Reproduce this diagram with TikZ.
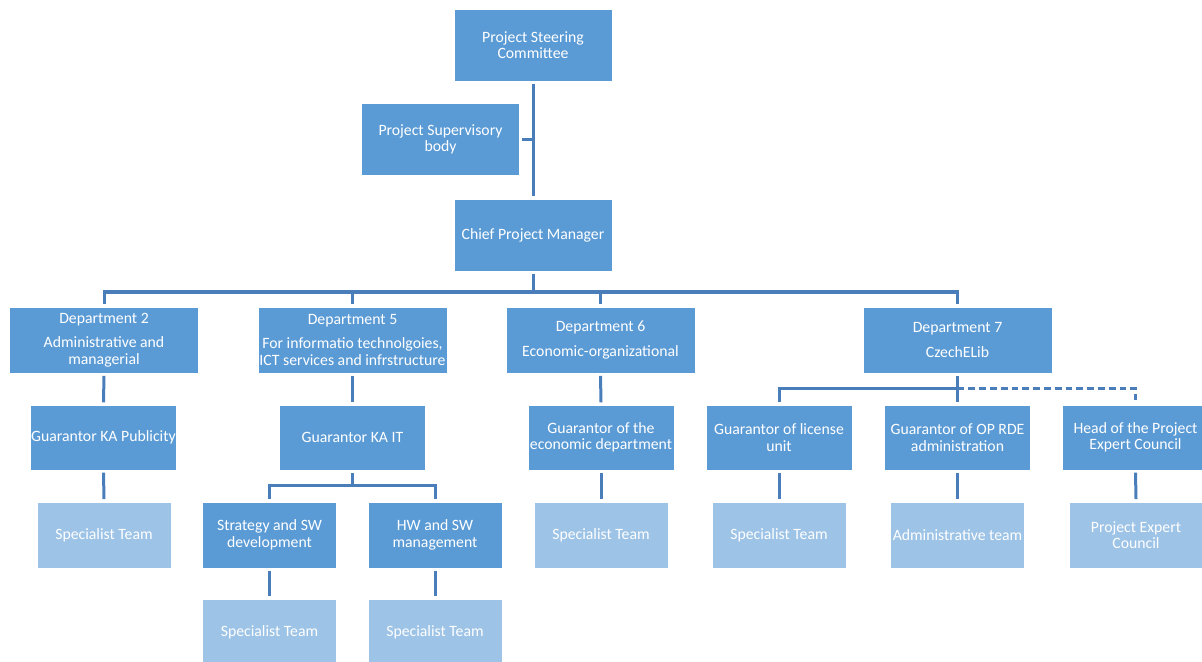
\documentclass[tikz,border=0pt]{standalone}
\usepackage{fontspec}
\setmainfont{Carlito}
\usetikzlibrary{calc}
\definecolor{boxblue}{HTML}{5B9BD5}
\definecolor{teamblue}{HTML}{9DC3E6}
\definecolor{linkblue}{HTML}{4A7EBB}
\tikzset{
	unit/.style={draw=white, line width=0.4pt, text=white, align=center, inner sep=0pt, outer sep=0.07cm, font=\fontsize{11.2}{11.8}\selectfont},
	mainbox/.style={unit, fill=boxblue, minimum width=3.95cm, minimum height=1.8cm},
	deptbox/.style={unit, fill=boxblue, minimum width=4.72cm, minimum height=1.65cm},
	guarbox/.style={unit, fill=boxblue, minimum width=3.65cm, minimum height=1.62cm},
	teambox/.style={unit, fill=teamblue, minimum width=3.35cm, minimum height=1.65cm},
	link/.style={draw=linkblue, line width=0.075cm},
	dashlink/.style={link, dash pattern=on 0.17cm off 0.1cm}
}

\begin{document}
\begin{tikzpicture}[x=0.025cm, y=-0.025cm]
			%%%%% START %%%%%
			\useasboundingbox (0, 0) rectangle (1202, 662);
			
			\node[mainbox] (steer) at (533, 45) {Project Steering\\Committee};
			\node[mainbox] (super) at (440.5, 139.5) {Project Supervisory\\body};
			\node[mainbox] (chief) at (533, 235) {Chief Project Manager};
			
			\node[deptbox] (dep2) at (104, 340) {Department 2\\[0.2cm]Administrative and\\managerial};
			\node[deptbox] (dep5) at (352.5, 340) {Department 5\\[0.2cm]For informatio technolgoies,\\ICT services and infrstructure};
			\node[deptbox] (dep6) at (600.5, 340) {Department 6\\[0.2cm]Economic-organizational};
			\node[deptbox] (dep7) at (957.5, 340) {Department 7\\[0.2cm]CzechELib};
			
			\node[guarbox] (guarpub) at (103.5, 437.5) {Guarantor KA Publicity};
			\node[guarbox] (guarit) at (352.5, 437.5) {Guarantor KA IT};
			\node[guarbox] (guarecon) at (601, 437.5) {Guarantor of the\\economic department};
			\node[guarbox] (guarlic) at (779, 437.5) {Guarantor of license\\unit};
			\node[guarbox] (guarop) at (957.5, 437.5) {Guarantor of OP RDE\\administration};
			\node[guarbox] (head) at (1135.5, 437.5) {Head of the Project\\Expert Council};
			
			\node[teambox] (team2) at (104, 535) {Specialist Team};
			\node[teambox, fill=boxblue] (strat) at (269.5, 535) {Strategy and SW\\development};
			\node[teambox, fill=boxblue] (hwsw) at (435, 535) {HW and SW\\management};
			\node[teambox] (team6) at (601, 535) {Specialist Team};
			\node[teambox] (teamlic) at (779, 535) {Specialist Team};
			\node[teambox] (adminteam) at (957.5, 535) {Administrative team};
			\node[teambox] (council) at (1136, 535) {Project Expert\\Council};
			
			\node[teambox] (teamstrat) at (269.5, 632) {Specialist Team};
			\node[teambox] (teamhw) at (435, 632) {Specialist Team};
			
			% top chain
			\draw[link] (steer.south) -- (chief.north);
			\draw[link] (super.east) -- (super.east -| steer.south);
			
			% departments
			\coordinate (bus) at (533, 292);
			\draw[link] (chief.south) -- (bus);
			\draw[link] (dep2.north) |- (bus -| dep7.north) -- (dep7.north);
			\draw[link] (dep5.north) -- (dep5.north |- bus);
			\draw[link] (dep6.north) -- (dep6.north |- bus);
			
			\draw[link] (dep2.south) -- (guarpub.north);
			\draw[link] (dep5.south) -- (guarit.north);
			\draw[link] (dep6.south) -- (guarecon.north);
			
			% department 7
			\coordinate (bus7) at (957.5, 388);
			\draw[link] (dep7.south) -- (guarop.north);
			\draw[link] (guarlic.north) |- (bus7);
			\draw[dashlink] (bus7) -| (head.north);
			
			% IT branch
			\coordinate (busit) at (352.5, 485);
			\draw[link] (guarit.south) -- (busit);
			\draw[link] (strat.north) |- (busit -| hwsw.north) -- (hwsw.north);
			\draw[link] (strat.south) -- (teamstrat.north);
			\draw[link] (hwsw.south) -- (teamhw.north);
			
			% teams
			\draw[link] (guarpub.south) -- (team2.north);
			\draw[link] (guarecon.south) -- (team6.north);
			\draw[link] (guarlic.south) -- (teamlic.north);
			\draw[link] (guarop.south) -- (adminteam.north);
			\draw[link] (head.south) -- (council.north);
			
			%%%%% END %%%%%
\end{tikzpicture}
\end{document}
